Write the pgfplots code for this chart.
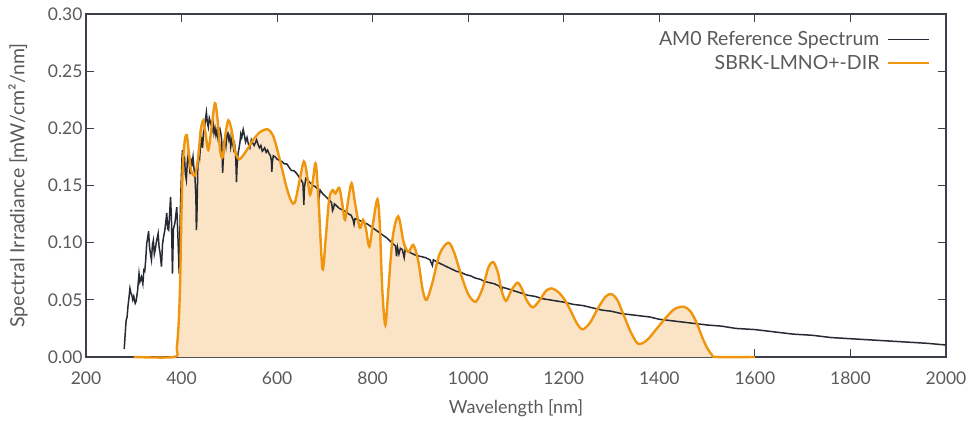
\documentclass[border=0pt]{standalone}
\usepackage{fontspec}
\setmainfont{Lato}
\usepackage{pgfplots}
\pgfplotsset{compat=1.18}
\definecolor{axc}{HTML}{3A3F4A}
\definecolor{txt}{HTML}{5A5A5A}
\definecolor{amc}{HTML}{262A33}
\definecolor{orc}{HTML}{F0960E}
\definecolor{fillc}{HTML}{FBE3C5}
\begin{document}
\begin{tikzpicture}
\useasboundingbox (-86pt,-64pt) rectangle (884pt,357pt);
\begin{axis}[
  scale only axis, width=860pt, height=343pt,
  xmin=200, xmax=2000, ymin=0, ymax=0.30,
  xtick={200,400,600,800,1000,1200,1400,1600,1800,2000},
  ytick={0,0.05,0.10,0.15,0.20,0.25,0.30},
  tick align=inside, major tick length=8pt,
  tick style={axc, line width=1.2pt},
  axis line style={axc, line width=1.5pt},
  font=\fontsize{17pt}{20pt}\selectfont,
  tick label style={txt, font=\fontsize{17.5pt}{20pt}\selectfont},
  /pgf/number format/assume math mode=true,
  yticklabel style={/pgf/number format/.cd, fixed, fixed zerofill, precision=2},
  xticklabel style={yshift=-11pt, /pgf/number format/.cd, set thousands separator={}},
  xlabel={Wavelength [nm]},
  ylabel={Spectral Irradiance [mW/cm²/nm]},
  label style={txt},
  xlabel style={font=\fontsize{18pt}{21pt}\selectfont, at={(axis description cs:0.5,-0.149)}, anchor=center},
  ylabel style={font=\fontsize{19.5pt}{22pt}\selectfont, at={(axis description cs:-0.079,0.5)}, anchor=center},
  legend plot pos=right,
  legend cell align=right,
  legend style={draw=none, fill=none, at={(rel axis cs:0.9814,0.955)}, anchor=north east,
    inner sep=0pt, row sep=4pt, text=txt, font=\fontsize{19.5pt}{22pt}\selectfont,
    nodes={inner xsep=7pt}},
  legend image code/.code={\draw[#1] (0pt,0pt) -- (41pt,0pt);},
  clip=false,
]
\addplot[draw=none, fill=fillc, smooth, forget plot] coordinates {
(300,0) (385,0) (390,0.008) (394,0.03) (397,0.065) (400,0.13) (403,0.17) (407,0.19) (411,0.194) (415,0.18) (420,0.163) (428,0.159) (435,0.175) (440,0.198) (445.5,0.207) (450,0.196) (456,0.181) (462,0.198) (470,0.222) (476,0.205) (481,0.18) (486,0.175) (492,0.195) (498,0.207) (505,0.198) (512,0.18) (521,0.173) (535,0.180) (550,0.190) (565,0.197) (581,0.199) (593,0.192) (606,0.172) (620,0.148) (630,0.136) (637,0.135) (645,0.150) (656,0.171) (663,0.158) (669,0.142) (675,0.155) (681,0.169) (687,0.135) (695,0.077) (702,0.105) (709,0.138) (716,0.146) (722,0.143) (730,0.148) (736,0.135) (742,0.120) (749,0.138) (756,0.152) (763,0.135) (773,0.113) (780,0.120) (786,0.112) (793,0.0965) (800,0.115) (810,0.138) (815,0.115) (820,0.06) (826.5,0.028) (833,0.06) (842,0.105) (853.6,0.123) (865,0.100) (875,0.092) (885,0.098) (895,0.085) (905,0.058) (913,0.050) (925,0.065) (940,0.090) (958,0.100) (970,0.092) (985,0.072) (1000,0.055) (1015.6,0.0484) (1030,0.060) (1042,0.078) (1052.5,0.083) (1062,0.074) (1070,0.058) (1079,0.049) (1090,0.058) (1102.8,0.065) (1112,0.060) (1122,0.050) (1135,0.0434) (1150,0.050) (1163,0.058) (1174.7,0.060) (1188,0.057) (1202,0.050) (1215,0.040) (1228,0.029) (1239.5,0.0242) (1255,0.030) (1272,0.043) (1288,0.053) (1300,0.055) (1312,0.050) (1325,0.037) (1340,0.022) (1352,0.013) (1360,0.0114) (1375,0.015) (1395,0.025) (1415,0.035) (1432,0.042) (1451,0.044) (1465,0.040) (1478,0.030) (1490,0.017) (1500,0.008) (1510,0.002) (1520,0) (1600,0)
} \closedcycle;
\addplot[amc, line width=1.5pt] coordinates {
(280,0.007) (282,0.020) (284,0.032) (286,0.035) (288,0.045) (290,0.052) (292,0.060) (294,0.056) (296,0.054) (298,0.050) (300,0.053) (303,0.047) (305,0.049) (308,0.058) (311,0.073) (313,0.066) (316,0.070) (319,0.064) (321,0.076) (323,0.075) (325,0.085) (327,0.099) (329,0.104) (331,0.110) (333,0.096) (335,0.090) (337,0.085) (339,0.098) (341,0.102) (343,0.090) (345,0.094) (347,0.100) (349,0.104) (351,0.108) (353,0.096) (355,0.091) (358,0.079) (360,0.098) (362,0.104) (365,0.111) (367,0.118) (369,0.126) (371,0.112) (373,0.111) (375,0.125) (377,0.140) (379,0.118) (381,0.073) (383,0.112) (386,0.117) (388,0.124) (390,0.131) (392,0.110) (393,0.098) (395,0.073) (397,0.120) (399,0.150) (401,0.175) (402,0.181) (404,0.168) (406,0.176) (408,0.160) (410,0.155) (412,0.170) (414,0.177) (416,0.170) (418,0.160) (420,0.172) (422,0.169) (424,0.175) (426,0.165) (428,0.158) (430,0.140) (431,0.111) (432,0.120) (434,0.165) (436,0.181) (438,0.175) (440,0.186) (442,0.190) (444,0.183) (446,0.196) (448,0.200) (450,0.208) (452,0.214) (454,0.205) (456,0.201) (458,0.209) (460,0.206) (462,0.203) (464,0.199) (466,0.205) (468,0.196) (470,0.200) (472,0.194) (474,0.198) (476,0.192) (478,0.199) (480,0.200) (482,0.196) (484,0.190) (486,0.161) (487,0.170) (489,0.188) (491,0.192) (493,0.185) (495,0.195) (497,0.196) (499,0.190) (501,0.193) (503,0.184) (505,0.190) (507,0.187) (509,0.182) (511,0.186) (513,0.180) (515,0.153) (516,0.165) (518,0.177) (520,0.182) (522,0.187) (524,0.195) (526,0.192) (529,0.199) (531,0.195) (534,0.188) (537,0.192) (540,0.186) (543,0.183) (546,0.190) (549,0.187) (552,0.185) (555,0.188) (557,0.190) (560,0.186) (563,0.183) (566,0.185) (569,0.180) (571,0.181) (574,0.183) (577,0.179) (580,0.181) (583,0.178) (586,0.176) (588,0.172) (589,0.162) (590,0.170) (592,0.176) (596,0.175) (600,0.173) (605,0.172) (610,0.171) (615,0.169) (620,0.169) (625,0.166) (630,0.163) (635,0.163) (640,0.161) (645,0.158) (650,0.155) (654,0.152) (656,0.133) (657,0.148) (660,0.156) (665,0.154) (670,0.152) (675,0.150) (680,0.149) (685,0.147) (688,0.140) (690,0.146) (695,0.143) (700,0.141) (705,0.139) (710,0.137) (714,0.135) (716,0.128) (718,0.130) (720,0.134) (725,0.132) (730,0.130) (735,0.129) (740,0.128) (745,0.127) (750,0.125) (755,0.124) (759,0.120) (761,0.116) (763,0.121) (770,0.120) (780,0.118) (790,0.116) (800,0.113) (810,0.110) (820,0.107) (830,0.104) (840,0.100) (848,0.097) (850,0.088) (852,0.096) (855,0.090) (858,0.095) (862,0.094) (866,0.087) (868,0.094) (875,0.092) (880,0.091) (890,0.089) (900,0.088) (910,0.087) (920,0.085) (925,0.080) (927,0.085) (935,0.083) (945,0.081) (955,0.079) (965,0.077) (975,0.075) (985,0.074) (995,0.072) (1005,0.071) (1015,0.069) (1025,0.068) (1035,0.066) (1045,0.065) (1055,0.064) (1065,0.062) (1070,0.058) (1072,0.061) (1080,0.060) (1095,0.058) (1110,0.056) (1125,0.054) (1140,0.053) (1155,0.051) (1170,0.050) (1185,0.049) (1200,0.048) (1220,0.046) (1240,0.045) (1260,0.043) (1280,0.041) (1300,0.040) (1320,0.038) (1340,0.037) (1360,0.036) (1380,0.035) (1400,0.033) (1420,0.032) (1440,0.031) (1460,0.030) (1480,0.029) (1500,0.028) (1530,0.027) (1560,0.025) (1600,0.024) (1640,0.022) (1680,0.020) (1720,0.019) (1760,0.017) (1800,0.016) (1840,0.015) (1880,0.014) (1920,0.013) (1960,0.012) (2000,0.0105)
};
\addlegendentry{AM0 Reference Spectrum}
\addplot[orc, line width=2.4pt, smooth] coordinates {
(300,0) (385,0) (390,0.008) (394,0.03) (397,0.065) (400,0.13) (403,0.17) (407,0.19) (411,0.194) (415,0.18) (420,0.163) (428,0.159) (435,0.175) (440,0.198) (445.5,0.207) (450,0.196) (456,0.181) (462,0.198) (470,0.222) (476,0.205) (481,0.18) (486,0.175) (492,0.195) (498,0.207) (505,0.198) (512,0.18) (521,0.173) (535,0.180) (550,0.190) (565,0.197) (581,0.199) (593,0.192) (606,0.172) (620,0.148) (630,0.136) (637,0.135) (645,0.150) (656,0.171) (663,0.158) (669,0.142) (675,0.155) (681,0.169) (687,0.135) (695,0.077) (702,0.105) (709,0.138) (716,0.146) (722,0.143) (730,0.148) (736,0.135) (742,0.120) (749,0.138) (756,0.152) (763,0.135) (773,0.113) (780,0.120) (786,0.112) (793,0.0965) (800,0.115) (810,0.138) (815,0.115) (820,0.06) (826.5,0.028) (833,0.06) (842,0.105) (853.6,0.123) (865,0.100) (875,0.092) (885,0.098) (895,0.085) (905,0.058) (913,0.050) (925,0.065) (940,0.090) (958,0.100) (970,0.092) (985,0.072) (1000,0.055) (1015.6,0.0484) (1030,0.060) (1042,0.078) (1052.5,0.083) (1062,0.074) (1070,0.058) (1079,0.049) (1090,0.058) (1102.8,0.065) (1112,0.060) (1122,0.050) (1135,0.0434) (1150,0.050) (1163,0.058) (1174.7,0.060) (1188,0.057) (1202,0.050) (1215,0.040) (1228,0.029) (1239.5,0.0242) (1255,0.030) (1272,0.043) (1288,0.053) (1300,0.055) (1312,0.050) (1325,0.037) (1340,0.022) (1352,0.013) (1360,0.0114) (1375,0.015) (1395,0.025) (1415,0.035) (1432,0.042) (1451,0.044) (1465,0.040) (1478,0.030) (1490,0.017) (1500,0.008) (1510,0.002) (1520,0) (1600,0)
};
\addlegendentry{SBRK-LMNO+-DIR}
\end{axis}
\end{tikzpicture}
\end{document}
